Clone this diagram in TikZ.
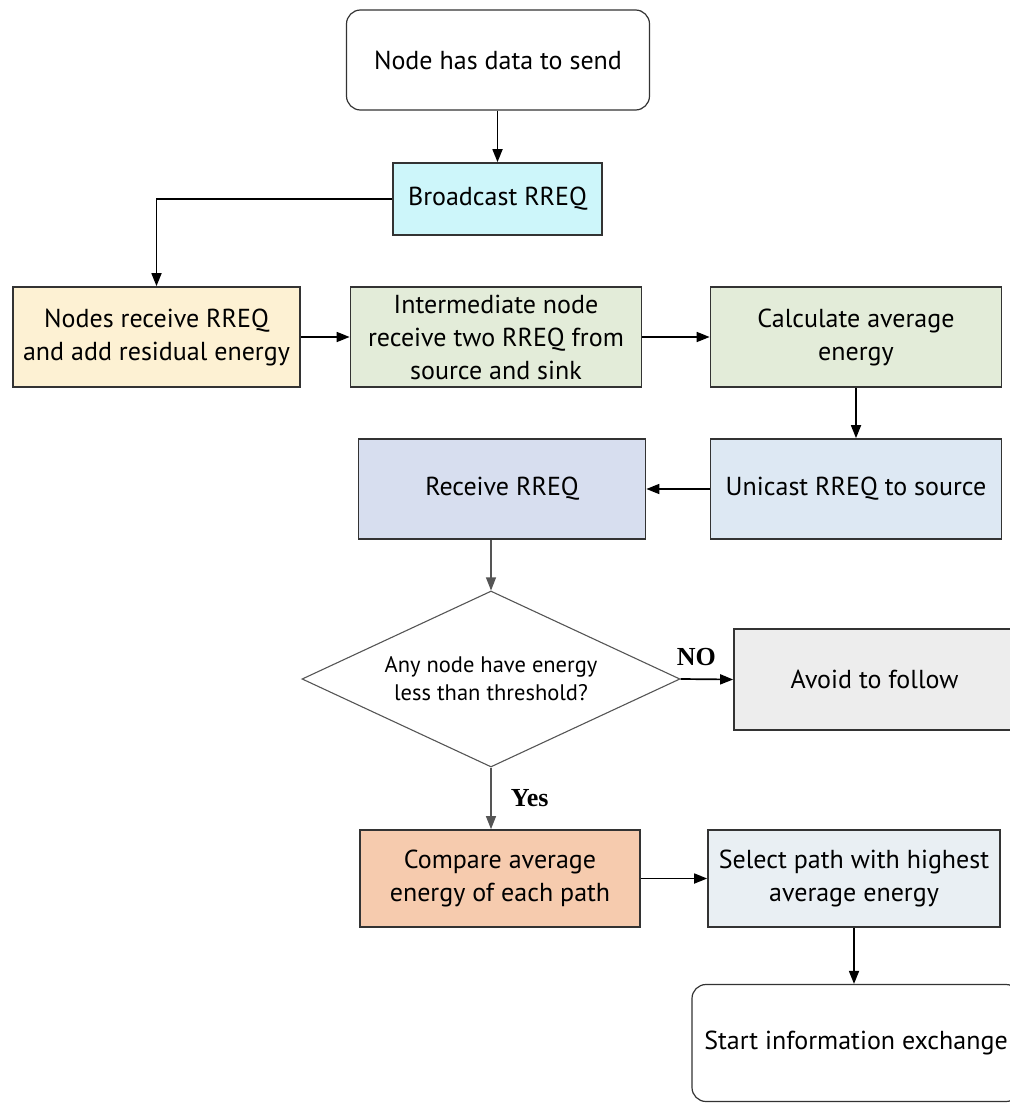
\documentclass[tikz,border=0pt]{standalone}
\usepackage{fontspec}
\setmainfont{PT Sans}
\newfontfamily\answerfont{Liberation Serif}
\usetikzlibrary{arrows.meta,shapes.geometric}
\definecolor{boxline}{HTML}{333333}
\definecolor{thinline}{HTML}{555555}
\definecolor{cyanfill}{HTML}{CDF6FA}
\definecolor{creamfill}{HTML}{FDF1D3}
\definecolor{greenfill}{HTML}{E3ECD9}
\definecolor{bluefill}{HTML}{DDE8F3}
\definecolor{lavfill}{HTML}{D7DEEF}
\definecolor{grayfill}{HTML}{EDEDED}
\definecolor{orangefill}{HTML}{F6CBAE}
\definecolor{slatefill}{HTML}{E9EFF3}

\begin{document}
\begin{tikzpicture}[
  x=1pt,
  y=-1pt,
  font=\fontsize{26}{33}\selectfont,
  >={Triangle[length=13pt,width=10pt]},
  stepbox/.style={draw=boxline, line width=1.7pt, align=center, inner sep=2pt},
  endbox/.style={draw=boxline, line width=1.2pt, rounded corners=14pt, fill=white, align=center},
  decision/.style={diamond, draw=thinline, line width=1.1pt, aspect=2.15, inner sep=0pt, align=center, font=\fontsize{22.5}{28}\selectfont},
  flow/.style={->, line width=1.7pt},
  thinflow/.style={->, draw=thinline, line width=1.1pt},
  answer/.style={font=\answerfont\bfseries\fontsize{26}{26}\selectfont}
]
\useasboundingbox (0,0) rectangle (1009,1110);

\node[endbox, minimum width=303pt, minimum height=100pt] (start) at (498,60) {Node has data to send};
\node[stepbox, fill=cyanfill, minimum width=209pt, minimum height=72pt] (bcast) at (497.5,199) {Broadcast RREQ};
\node[stepbox, fill=creamfill, minimum width=287pt, minimum height=100pt] (recv) at (156.5,337) {Nodes receive RREQ\\and add residual energy};
\node[stepbox, fill=greenfill, minimum width=291pt, minimum height=100pt] (inter) at (496,337) {Intermediate node\\receive two RREQ from\\source and sink};
\node[stepbox, fill=greenfill, minimum width=291pt, minimum height=100pt] (calc) at (856,337) {Calculate average\\energy};
\node[stepbox, fill=bluefill, minimum width=291pt, minimum height=100pt] (unicast) at (856,489) {Unicast RREQ to source};
\node[stepbox, fill=lavfill, minimum width=287pt, minimum height=100pt] (rcvreq) at (502,489) {Receive RREQ};
\node[decision, minimum width=378pt, minimum height=176pt] (check) at (491,679) {Any node have energy\\less than threshold?};
\node[stepbox, fill=grayfill, minimum width=281pt, minimum height=101pt] (avoid) at (874.5,679.5) {Avoid to follow};
\node[stepbox, fill=orangefill, minimum width=280pt, minimum height=97pt] (compare) at (500,878.5) {Compare average\\energy of each path};
\node[stepbox, fill=slatefill, minimum width=292pt, minimum height=97pt] (select) at (854,878.5) {Select path with highest\\average energy};
\node[endbox, minimum width=328pt, minimum height=117pt] (exchange) at (856,1043) {Start information exchange};

\draw[flow] (start.south -| bcast.north) -- (bcast.north);
\draw[flow] (bcast.west) -| (recv.north);
\draw[flow] (recv.east) -- (inter.west);
\draw[flow] (inter.east) -- (calc.west);
\draw[flow] (calc.south) -- (unicast.north);
\draw[flow] (unicast.west) -- (rcvreq.east);
\draw[thinflow] (rcvreq.south -| check.north) -- (check.north);
\draw[flow] (check.east) -- node[answer, above, pos=0.3, yshift=9pt] (no) {NO} (avoid.west);
\draw[thinflow] (check.south) -- node[answer, right, xshift=16pt] (yes) {Yes} (check.south |- compare.north);
\draw[flow] (compare.east) -- (select.west);
\draw[flow] (select.south) -- (select.south |- exchange.north);

\end{tikzpicture}
\end{document}
